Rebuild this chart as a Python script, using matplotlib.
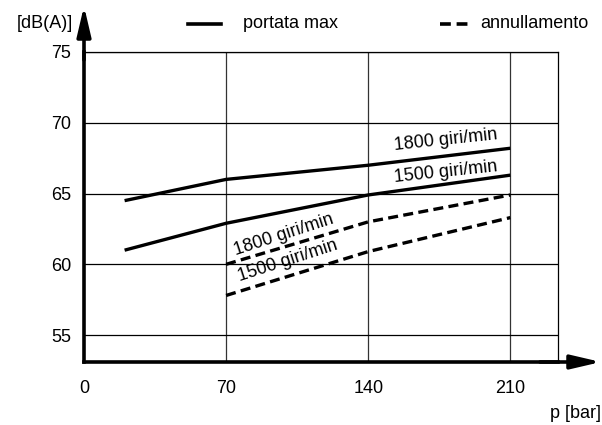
import matplotlib.pyplot as plt

plt.rcParams['font.family'] = ['Liberation Sans', 'DejaVu Sans']

p = [20, 70, 140, 210]
portata_1800 = [64.5, 66.0, 67.0, 68.2]
portata_1500 = [61.0, 62.9, 64.9, 66.3]
p_ann = [70, 140, 210]
ann_1800 = [60.0, 63.0, 64.9]
ann_1500 = [57.8, 60.9, 63.3]

xticks = [0, 70, 140, 210]
yticks = [55, 60, 65, 70, 75]

fig = plt.figure(figsize=(6.02, 4.25), dpi=100)
ax = fig.add_axes([84/602, 63/425, 474/602, 310/425])
ax.set_xlim(0, 233.5)
ax.set_ylim(53.1, 75)

# grid
for x in xticks[1:]:
    ax.axvline(x, color='#333333', lw=0.9, zorder=1)
for y in yticks:
    ax.axhline(y, color='black', lw=0.9, zorder=1)

ax.plot(p, portata_1800, color='black', lw=2.4, solid_capstyle='butt', zorder=3)
ax.plot(p, portata_1500, color='black', lw=2.4, solid_capstyle='butt', zorder=3)
ax.plot(p_ann, ann_1800, color='black', lw=2.4, dashes=(3, 1.6), zorder=3)
ax.plot(p_ann, ann_1500, color='black', lw=2.4, dashes=(3, 1.6), zorder=3)

fs = 13
ax.text(178, 68.8, '1800 giri/min', fontsize=fs, rotation=6, ha='center', va='center')
ax.text(178, 66.5, '1500 giri/min', fontsize=fs, rotation=6, ha='center', va='center')
ax.text(98.5, 62.1, '1800 giri/min', fontsize=fs, rotation=18, ha='center', va='center')
ax.text(100.5, 60.25, '1500 giri/min', fontsize=fs, rotation=18, ha='center', va='center')

ax.set_xticks(xticks)
ax.set_yticks(yticks)
ax.tick_params(length=0, labelsize=fs)
ax.tick_params(axis='x', pad=13)
ax.tick_params(axis='y', pad=9)

for s in ['top', 'right']:
    ax.spines[s].set_linewidth(0.9)
for s in ['left', 'bottom']:
    ax.spines[s].set_linewidth(2.6)
    ax.spines[s].set_zorder(4)

# axis arrows
head = '-|>,head_length=1.8,head_width=0.42'
ax.annotate('', xy=(84/602, 1 - 6/425), xycoords='figure fraction',
            xytext=(84/602, 1 - 60/425), textcoords='figure fraction',
            arrowprops=dict(arrowstyle=head, mutation_scale=10, color='black', lw=2.6,
                            shrinkA=0, shrinkB=0))
ax.annotate('', xy=(601/602, 63/425), xycoords='figure fraction',
            xytext=(540/602, 63/425), textcoords='figure fraction',
            arrowprops=dict(arrowstyle=head, mutation_scale=10, color='black', lw=2.6,
                            shrinkA=0, shrinkB=0))

fig.text(73/602, 1 - 24/425, '[dB(A)]', fontsize=fs, va='center', ha='right')
fig.text(601/602, 1 - 413/425, 'p [bar]', fontsize=fs, va='center', ha='right')

# legend
fig.add_artist(plt.Line2D([188/602, 221/602], [1 - 24/425] * 2, color='black', lw=2.6))
fig.text(243/602, 1 - 24/425, 'portata max', fontsize=fs, va='center')
fig.add_artist(plt.Line2D([440/602, 469/602], [1 - 24/425] * 2, color='black', lw=2.6, dashes=(3, 1.6)))
fig.text(480/602, 1 - 24/425, 'annullamento', fontsize=fs, va='center')

plt.savefig('out.png', dpi=100)
